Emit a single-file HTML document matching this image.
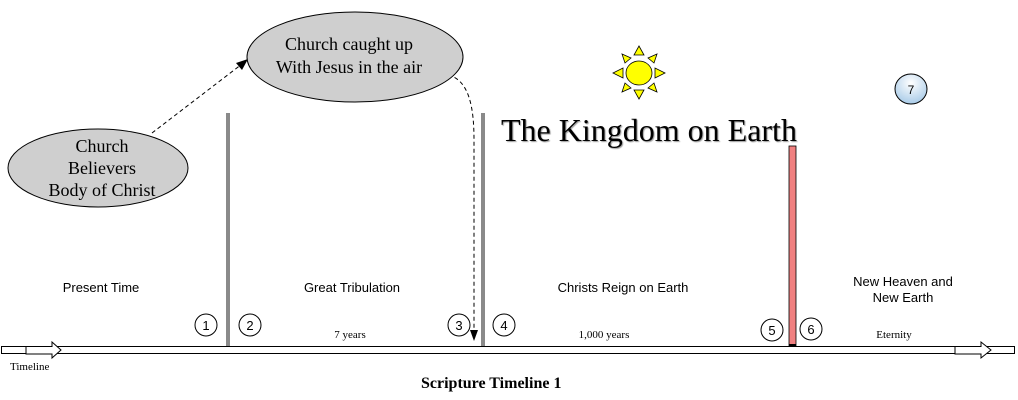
<!DOCTYPE html>
<html><head><meta charset="utf-8"><style>
html,body{margin:0;padding:0;background:#fff;}
svg{display:block;}
.s{font-family:"Liberation Serif",serif;}
.a{font-family:"Liberation Sans",sans-serif;}
</style></head><body>
<svg width="1018" height="400" viewBox="0 0 1018 400" xmlns="http://www.w3.org/2000/svg">
<defs>
<radialGradient id="g7" cx="0.5" cy="0.3" r="0.7"><stop offset="0" stop-color="#ffffff"/><stop offset="1" stop-color="#a9cbe8"/></radialGradient>
</defs>
<path d="M152,133 L242,64" stroke="#000" stroke-dasharray="4,3" fill="none"/>
<polygon points="248,59 236,63 242,70" fill="#000"/>
<path d="M448,75 C470,80 474,110 474,140 L474,330" stroke="#000" stroke-dasharray="4,3" fill="none"/>
<polygon points="470,330 478,330 474,341" fill="#000"/>
<ellipse cx="98" cy="168" rx="90" ry="39" fill="#cfcfcf" stroke="#000"/>
<text class="s" font-size="18" text-anchor="middle" x="102" y="152">Church</text>
<text class="s" font-size="18" text-anchor="middle" x="102" y="174">Believers</text>
<text class="s" font-size="18" text-anchor="middle" x="102" y="196">Body of Christ</text>
<ellipse cx="355" cy="57" rx="108" ry="45" fill="#cfcfcf" stroke="#000"/>
<text class="s" font-size="18" text-anchor="middle" x="349" y="50">Church caught up</text>
<text class="s" font-size="18" text-anchor="middle" x="349" y="73">With Jesus in the air</text>
<g fill="#ffff00" stroke="#000" stroke-width="0.8">
<polygon points="639,46 634,55 644,55"/>
<polygon points="639,99 634,90 644,90"/>
<polygon points="613,73 623,68 623,78"/>
<polygon points="665,73 655,68 655,78"/>
<polygon points="622,54 625,63 631,58"/>
<polygon points="657,54 654,63 648,58"/>
<polygon points="622,92 625,83 631,88"/>
<polygon points="657,92 654,83 648,88"/>
<ellipse cx="639" cy="73" rx="13" ry="12"/>
</g>
<ellipse cx="911" cy="89" rx="16" ry="15" fill="url(#g7)" stroke="#000"/>
<text class="a" font-size="12" text-anchor="middle" x="911" y="94">7</text>
<text class="s" font-size="32" x="501" y="141" fill="#000" style="text-shadow:1px 1px 1px #999">The Kingdom on Earth</text>
<rect x="226" y="113" width="4" height="233" fill="#8a8a8a"/>
<rect x="481" y="113" width="4" height="233" fill="#8a8a8a"/>
<rect x="789" y="146" width="7" height="200" fill="#f08080" stroke="#000" stroke-width="0.8"/>
<g class="a" font-size="13" text-anchor="middle" fill="#000">
<text x="101" y="292">Present Time</text>
<text x="352" y="292">Great Tribulation</text>
<text x="623" y="292">Christs Reign on Earth</text>
<text x="903" y="286">New Heaven and</text>
<text x="903" y="302">New Earth</text>
</g>
<g class="s" font-size="11" text-anchor="middle">
<text x="350" y="338">7 years</text>
<text x="604" y="338">1,000 years</text>
<text x="894" y="338">Eternity</text>
</g>
<g fill="#fff" stroke="#000">
<circle cx="206" cy="325" r="11"/><circle cx="250" cy="325" r="11"/>
<circle cx="459" cy="325" r="11"/><circle cx="504" cy="325" r="11"/>
<circle cx="772" cy="330" r="11"/><circle cx="811" cy="329" r="11"/>
</g>
<g class="a" font-size="13" text-anchor="middle">
<text x="206" y="330">1</text><text x="250" y="330">2</text>
<text x="459" y="330">3</text><text x="504" y="330">4</text>
<text x="772" y="335">5</text><text x="811" y="334">6</text>
</g>
<rect x="1.5" y="346.5" width="1013" height="7" fill="#fff" stroke="#000"/>
<path d="M26,346.5 L52,346.5 L52,342 L61,350 L52,358 L52,354 L26,354 Z" fill="#fff" stroke="#000"/>
<path d="M955,346.5 L981,346.5 L981,342 L991,350 L981,358 L981,354 L955,354 Z" fill="#fff" stroke="#000"/>
<rect x="789" y="344" width="7" height="3" fill="#000"/>
<text class="s" font-size="11" x="10" y="370">Timeline</text>
<text class="s" font-size="16" font-weight="bold" x="421" y="388">Scripture Timeline 1</text>
</svg>
</body></html>
